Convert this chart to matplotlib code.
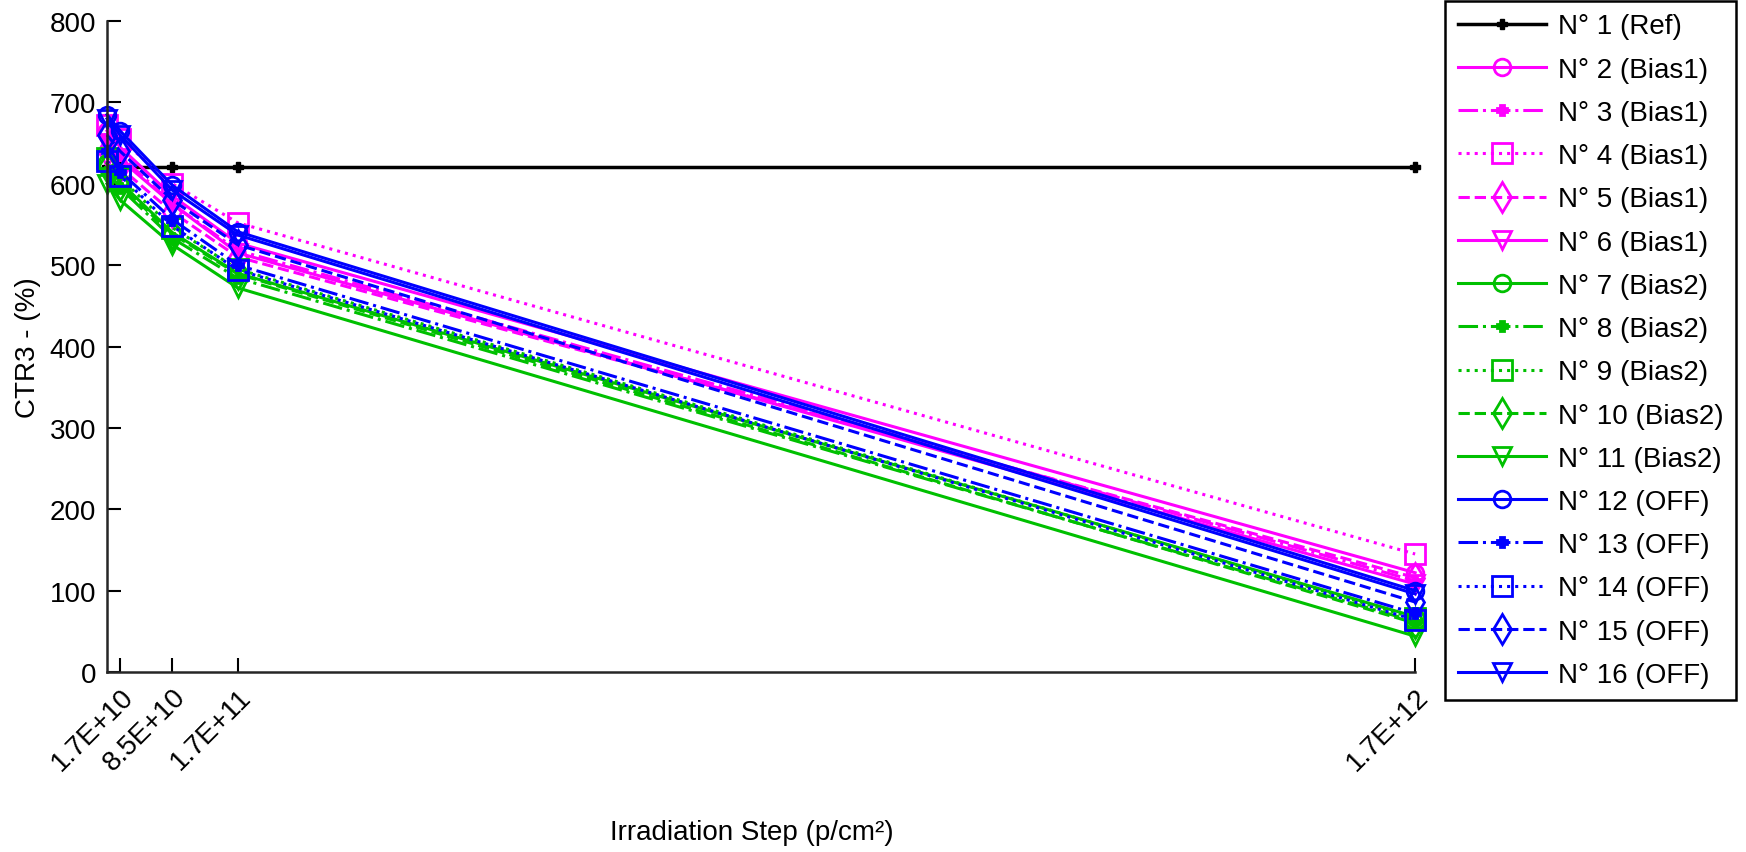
import numpy as np
import matplotlib
matplotlib.use('Agg')
import matplotlib.pyplot as plt

plt.rcParams['font.family'] = ['Liberation Sans', 'DejaVu Sans']

# irradiation steps (p/cm2), first point is the pre-irradiation value
steps = [0, 1.7e10, 8.5e10, 1.7e11, 1.7e12]
tick_pos = [1.7e10, 8.5e10, 1.7e11, 1.7e12]
tick_labels = ['1.7E+10', '8.5E+10', '1.7E+11', '1.7E+12']

labels = ['N° 1 (Ref)',
          'N° 2 (Bias1)', 'N° 3 (Bias1)', 'N° 4 (Bias1)', 'N° 5 (Bias1)', 'N° 6 (Bias1)',
          'N° 7 (Bias2)', 'N° 8 (Bias2)', 'N° 9 (Bias2)', 'N° 10 (Bias2)', 'N° 11 (Bias2)',
          'N° 12 (OFF)', 'N° 13 (OFF)', 'N° 14 (OFF)', 'N° 15 (OFF)', 'N° 16 (OFF)']

ctr = [
    [620, 620, 620, 620, 620],
    [665, 645, 585, 527, 122],
    [655, 635, 575, 518, 112],
    [672, 655, 600, 552, 145],
    [640, 620, 565, 510, 116],
    [650, 630, 575, 515, 108],
    [625, 602, 540, 490, 68],
    [615, 595, 533, 484, 62],
    [632, 607, 546, 495, 66],
    [620, 598, 538, 489, 60],
    [600, 580, 525, 472, 44],
    [685, 665, 598, 541, 100],
    [640, 615, 556, 500, 72],
    [628, 610, 548, 494, 64],
    [660, 640, 580, 525, 86],
    [680, 660, 592, 537, 96],
]

group_colors = ['#FF00FF', '#00C000', '#0000FF']
styles = ['-', '-.', ':', '--', '-']
markers = ['o', 'P', 's', 'd', 'v']
msizes = [12, 7, 14, 15, 13]

fig = plt.figure(figsize=(17.46, 8.53), dpi=100)
ax = fig.add_axes([0.0613, 0.211, 0.7492, 0.7632])

ax.plot(steps, ctr[0], color='k', ls='-', marker='P', ms=7, lw=2.5,
        label=labels[0], clip_on=False)
for i in range(1, 16):
    g = (i - 1) // 5
    k = (i - 1) % 5
    filled = markers[k] == 'P'
    ax.plot(steps, ctr[i], color=group_colors[g], ls=styles[k], lw=2.2,
            marker=markers[k], ms=msizes[k], mew=2,
            mfc=group_colors[g] if filled else 'none',
            label=labels[i], clip_on=False)

ax.set_xlim(0, 1.7e12)
ax.set_ylim(0, 800)
ax.set_yticks(np.arange(0, 801, 100))
ax.set_xticks(tick_pos)
ax.set_xticklabels(tick_labels, rotation=45, ha='right', va='top',
                   rotation_mode='anchor')
ax.tick_params(direction='in', length=10, width=1.5, labelsize=20, pad=8)
ax.spines['top'].set_visible(False)
ax.spines['right'].set_visible(False)
for s in ['left', 'bottom']:
    ax.spines[s].set_linewidth(1.8)
    ax.spines[s].set_color('#262626')

fig.text(752 / 1746, 1 - 833 / 853, 'Irradiation Step (p/cm²)', fontsize=20,
         ha='center', va='center')
ax.set_ylabel('CTR3 - (%)', fontsize=20, labelpad=6)

leg = fig.legend(loc='upper left', bbox_to_anchor=(1445 / 1746, 1 - 2 / 853),
                 borderaxespad=0, fontsize=20, handlelength=3.2,
                 labelspacing=0.62, borderpad=0.45, handletextpad=0.4,
                 fancybox=False, edgecolor='k', framealpha=1)
leg.get_frame().set_linewidth(1.8)

fig.savefig('out.png', dpi=100)
